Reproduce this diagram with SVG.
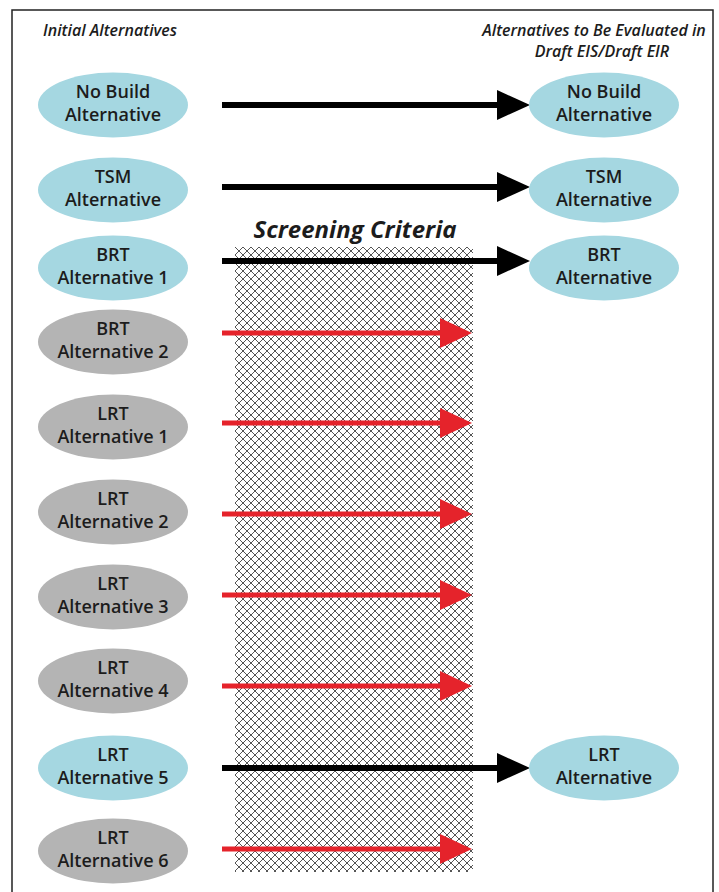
<svg xmlns="http://www.w3.org/2000/svg" width="719" height="892" viewBox="0 0 719 892">
<style>
.blue{fill:#a5d7e1}
.gray{fill:#b4b4b4}
.lbl{font-family:"Open Sans","Liberation Sans",sans-serif;font-weight:600;font-size:18px;fill:#1c1c1c;text-anchor:middle}
.hdr{font-family:"Open Sans","Liberation Sans",sans-serif;font-weight:600;font-style:italic;font-size:16px;fill:#1c1c1c}
.blk{stroke:#000;stroke-width:6;fill:none}
.red{stroke:#e5232b;stroke-width:5;fill:none}
</style>
<defs>
<pattern id="hatch" patternUnits="userSpaceOnUse" x="235" y="247" width="8" height="8">
<rect width="8" height="8" fill="#fff"/>
<path d="M0,0 L8,8 M8,0 L0,8 M-1,7 L1,9 M7,-1 L9,1 M-1,1 L1,-1 M7,9 L9,7" stroke="#555" stroke-width="1"/>
</pattern>
<marker id="ahB" markerUnits="userSpaceOnUse" markerWidth="34" markerHeight="32" refX="0" refY="16" orient="auto">
<path d="M0,1 L33,16 L0,31 z" fill="#000"/>
</marker>
<marker id="ahR" markerUnits="userSpaceOnUse" markerWidth="34" markerHeight="32" refX="0" refY="16" orient="auto">
<path d="M0,1 L32,16 L0,31 z" fill="#e5232b"/>
</marker>
</defs>
<rect x="0" y="0" width="719" height="892" fill="#fff"/>
<rect x="12" y="10" width="701" height="900" fill="none" stroke="#222" stroke-width="1.5"/>
<text class="hdr" x="43" y="36">Initial Alternatives</text>
<text class="hdr" x="594" y="36" text-anchor="middle">Alternatives to Be Evaluated in</text>
<text class="hdr" x="602" y="57" text-anchor="middle">Draft EIS/Draft EIR</text>
<g id="screening">
<rect x="235" y="247" width="238" height="625" fill="url(#hatch)"/>
<text x="355" y="238" text-anchor="middle" style="font-family:'Open Sans','Liberation Sans',sans-serif;font-weight:700;font-style:italic;font-size:24px;fill:#1c1c1c">Screening Criteria</text>
</g>
<g id="connectors">
<line class="blk" x1="222" y1="105" x2="497" y2="105" marker-end="url(#ahB)"/>
<line class="blk" x1="222" y1="187" x2="497" y2="187" marker-end="url(#ahB)"/>
<line class="blk" x1="222" y1="261" x2="497" y2="261" marker-end="url(#ahB)"/>
<line class="red" x1="222" y1="333" x2="440" y2="333" marker-end="url(#ahR)"/>
<line class="red" x1="222" y1="423" x2="440" y2="423" marker-end="url(#ahR)"/>
<line class="red" x1="222" y1="514" x2="440" y2="514" marker-end="url(#ahR)"/>
<line class="red" x1="222" y1="595" x2="440" y2="595" marker-end="url(#ahR)"/>
<line class="red" x1="222" y1="686" x2="440" y2="686" marker-end="url(#ahR)"/>
<line class="blk" x1="222" y1="768" x2="497" y2="768" marker-end="url(#ahB)"/>
<line class="red" x1="222" y1="849" x2="440" y2="849" marker-end="url(#ahR)"/>
</g>
<g id="l-nobuild"><ellipse class="blue" cx="113" cy="105" rx="75" ry="32.5"/><text class="lbl" x="113" y="98">No Build</text><text class="lbl" x="113" y="121">Alternative</text></g>
<g id="l-tsm"><ellipse class="blue" cx="113" cy="190" rx="75" ry="32.5"/><text class="lbl" x="113" y="183">TSM</text><text class="lbl" x="113" y="206">Alternative</text></g>
<g id="l-brt1"><ellipse class="blue" cx="113" cy="268" rx="75" ry="32.5"/><text class="lbl" x="113" y="261">BRT</text><text class="lbl" x="113" y="284">Alternative 1</text></g>
<g id="l-brt2"><ellipse class="gray" cx="113" cy="342" rx="75" ry="32.5"/><text class="lbl" x="113" y="335">BRT</text><text class="lbl" x="113" y="358">Alternative 2</text></g>
<g id="l-lrt1"><ellipse class="gray" cx="113" cy="427" rx="75" ry="32.5"/><text class="lbl" x="113" y="420">LRT</text><text class="lbl" x="113" y="443">Alternative 1</text></g>
<g id="l-lrt2"><ellipse class="gray" cx="113" cy="512" rx="75" ry="32.5"/><text class="lbl" x="113" y="505">LRT</text><text class="lbl" x="113" y="528">Alternative 2</text></g>
<g id="l-lrt3"><ellipse class="gray" cx="113" cy="597" rx="75" ry="32.5"/><text class="lbl" x="113" y="590">LRT</text><text class="lbl" x="113" y="613">Alternative 3</text></g>
<g id="l-lrt4"><ellipse class="gray" cx="113" cy="681" rx="75" ry="32.5"/><text class="lbl" x="113" y="674">LRT</text><text class="lbl" x="113" y="697">Alternative 4</text></g>
<g id="l-lrt5"><ellipse class="blue" cx="113" cy="768" rx="75" ry="32.5"/><text class="lbl" x="113" y="761">LRT</text><text class="lbl" x="113" y="784">Alternative 5</text></g>
<g id="l-lrt6"><ellipse class="gray" cx="113" cy="851" rx="75" ry="32.5"/><text class="lbl" x="113" y="844">LRT</text><text class="lbl" x="113" y="867">Alternative 6</text></g>
<g id="r-nobuild"><ellipse class="blue" cx="604" cy="105" rx="75" ry="32.5"/><text class="lbl" x="604" y="98">No Build</text><text class="lbl" x="604" y="121">Alternative</text></g>
<g id="r-tsm"><ellipse class="blue" cx="604" cy="190" rx="75" ry="32.5"/><text class="lbl" x="604" y="183">TSM</text><text class="lbl" x="604" y="206">Alternative</text></g>
<g id="r-brt"><ellipse class="blue" cx="604" cy="268" rx="75" ry="32.5"/><text class="lbl" x="604" y="261">BRT</text><text class="lbl" x="604" y="284">Alternative</text></g>
<g id="r-lrt"><ellipse class="blue" cx="604" cy="768" rx="75" ry="32.5"/><text class="lbl" x="604" y="761">LRT</text><text class="lbl" x="604" y="784">Alternative</text></g>
</svg>
